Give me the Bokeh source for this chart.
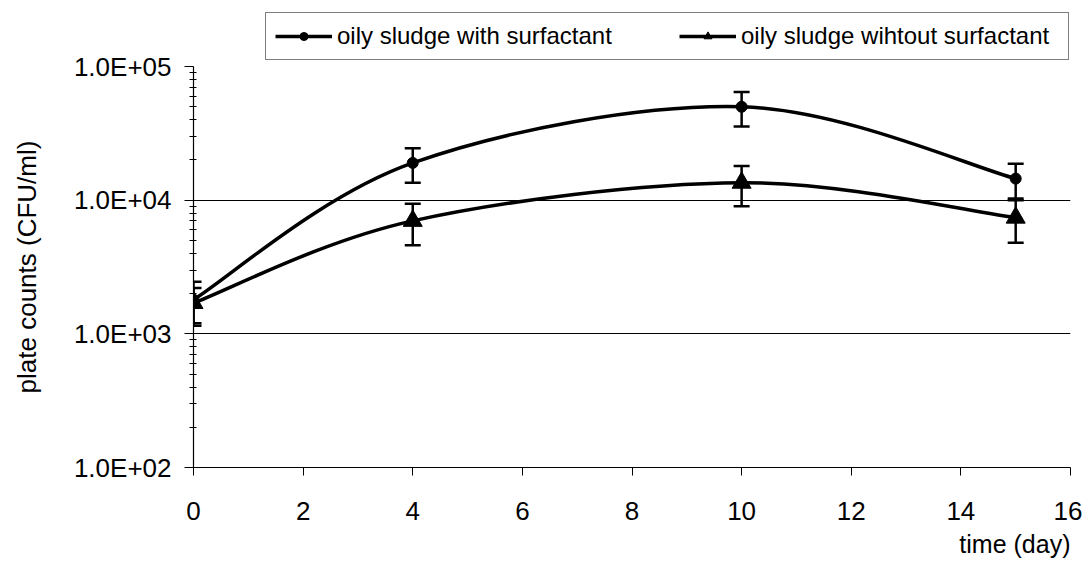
import math
from bokeh.plotting import figure
from bokeh.layouts import column
from bokeh.models import (ColumnDataSource, Range1d, FixedTicker, Whisker, TeeHead,
                          Legend, LegendItem, Title)
from bokeh.embed import file_html
from bokeh.resources import INLINE

# ---- data ----
days = [0, 4, 10, 15]
with_surf = [1800, 19000, 50000, 14500]
with_err = [650, 5500, 14500, 4200]
without_surf = [1700, 7000, 13500, 7400]
without_err = [500, 2400, 4500, 2600]

x_ticks = [0, 2, 4, 6, 8, 10, 12, 14, 16]
y_ticks = [100, 1000, 10000, 100000]
y_tick_labels = ["1.0E+02", "1.0E+03", "1.0E+04", "1.0E+05"]
series_names = ["oily sludge with surfactant", "oily sludge wihtout surfactant"]
series_markers = ["circle", "triangle"]
x_title = "time (day)"
y_title = "plate counts (CFU/ml)"

FONT = "Liberation Sans"
W = 1082

p = figure(width=W, height=515, output_backend="svg", toolbar_location=None,
           y_axis_type="log", x_range=Range1d(0, 16), y_range=Range1d(100, 100000),
           min_border_left=193, min_border_right=12, min_border_top=16, min_border_bottom=98)
p.margin = (-16, 0, 0, 0)
p.outline_line_color = None
p.background_fill_color = "white"
p.border_fill_alpha = 0

# axes
p.xaxis.ticker = FixedTicker(ticks=x_ticks)
minor = [m * 10 ** k for k in (2, 3, 4) for m in range(2, 10)]
p.yaxis.ticker = FixedTicker(ticks=y_ticks, minor_ticks=minor)
p.yaxis.major_label_overrides = {int(t): l for t, l in zip(y_ticks, y_tick_labels)}
for ax in (p.xaxis, p.yaxis):
    ax.axis_line_color = "black"
    ax.axis_line_width = 1.2
    ax.major_tick_line_color = "black"
    ax.minor_tick_line_color = "black"
    ax.major_label_text_font = FONT
    ax.major_label_text_font_size = "26px"
    ax.major_label_text_color = "black"
    ax.major_tick_in = 0
p.xaxis.major_tick_out = 8
p.xaxis.minor_tick_out = 0
p.xaxis.minor_tick_in = 0
p.xaxis.major_label_standoff = 26
p.yaxis.major_tick_out = 9
p.yaxis.minor_tick_out = 4
p.yaxis.minor_tick_in = 3
p.yaxis.major_label_standoff = 13
p.yaxis.axis_label = y_title
p.yaxis.axis_label_text_font = FONT
p.yaxis.axis_label_text_font_size = "26px"
p.yaxis.axis_label_text_font_style = "normal"
p.yaxis.axis_label_text_color = "black"
p.yaxis.axis_label_standoff = 29

p.add_layout(Title(text=x_title, align="right", text_font=FONT, text_font_size="25px",
                   text_font_style="normal", text_color="black"), "below")

p.xgrid.visible = False
p.ygrid.grid_line_color = "black"
p.ygrid.grid_line_width = 1


def smooth(xs, ys):
    ly = [math.log10(v) for v in ys]
    n = len(xs)
    out = dict(x0=[], y0=[], x1=[], y1=[], cx0=[], cy0=[], cx1=[], cy1=[])
    for i in range(n - 1):
        a = i - 1 if i > 0 else i
        b = i + 2 if i + 2 < n else i + 1
        out["x0"].append(xs[i]); out["y0"].append(ys[i])
        out["x1"].append(xs[i + 1]); out["y1"].append(ys[i + 1])
        out["cx0"].append(xs[i] + (xs[i + 1] - xs[a]) / 6)
        out["cy0"].append(10 ** (ly[i] + (ly[i + 1] - ly[a]) / 6))
        out["cx1"].append(xs[i + 1] - (xs[b] - xs[i]) / 6)
        out["cy1"].append(10 ** (ly[i + 1] - (ly[b] - ly[i]) / 6))
    return ColumnDataSource(out)


sizes = {"circle": 11, "triangle": 19}
sources = []
for vals, errs, marker in [(with_surf, with_err, series_markers[0]),
                           (without_surf, without_err, series_markers[1])]:
    src = ColumnDataSource(dict(x=days, y=vals,
                                upper=[v + e for v, e in zip(vals, errs)],
                                lower=[v - e for v, e in zip(vals, errs)]))
    sources.append(src)
    p.bezier(x0="x0", y0="y0", x1="x1", y1="y1", cx0="cx0", cy0="cy0",
             cx1="cx1", cy1="cy1", source=smooth(days, vals),
             line_color="black", line_width=3.5)
    p.add_layout(Whisker(source=src, base="x", upper="upper", lower="lower",
                         line_color="black", line_width=2.5,
                         upper_head=TeeHead(size=16, line_width=2.5, line_color="black"),
                         lower_head=TeeHead(size=16, line_width=2.5, line_color="black")))
    p.scatter("x", "y", source=src, marker=marker, size=sizes[marker],
              fill_color="black", line_color="black")

# ---- legend strip above the plot ----
lg = figure(width=W, height=66, output_backend="svg", toolbar_location=None,
            x_range=Range1d(0, 1), y_range=Range1d(0, 1),
            min_border_left=0, min_border_right=0, min_border_top=0, min_border_bottom=0)
lg.axis.visible = False
lg.grid.visible = False
lg.outline_line_color = None
lg.background_fill_alpha = 0
lg.border_fill_alpha = 0
lg.styles = {"z-index": "10", "position": "relative"}
items = []
legend_sizes = {"circle": 11, "triangle": 21}
for src, name, marker in zip(sources, series_names, series_markers):
    r_line = lg.line("x", "y", source=src, line_color="black", line_width=3.5, visible=False)
    r_mark = lg.scatter("x", "y", source=src, marker=marker, size=legend_sizes[marker],
                        fill_color="black", line_color="black", visible=False)
    items.append(LegendItem(label=name, renderers=[r_line, r_mark]))

legend = Legend(items=items, orientation="horizontal", location=(72, 6),
                padding=9, margin=0, spacing=24, label_standoff=5,
                glyph_width=57, glyph_height=20, label_height=20, label_width=318,
                label_text_font=FONT, label_text_font_size="24px",
                label_text_color="black",
                border_line_color="black", border_line_width=1.5,
                background_fill_color="white", background_fill_alpha=1,
                inactive_fill_alpha=0)
lg.add_layout(legend)

layout = column(lg, p, spacing=0)
open("out.html", "w").write(file_html(layout, INLINE))
